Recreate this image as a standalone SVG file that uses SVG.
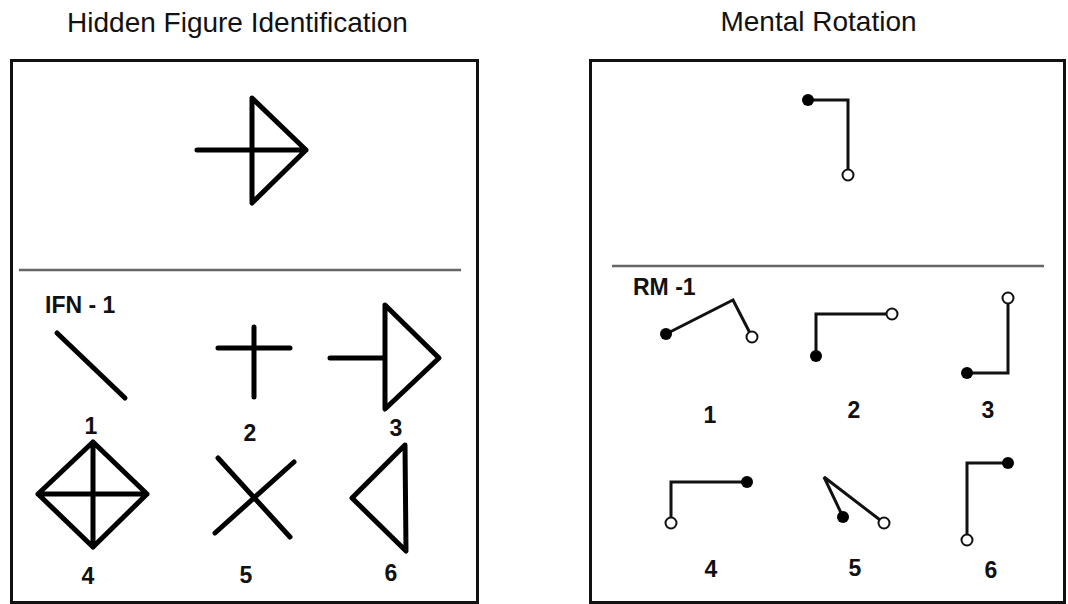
<svg xmlns="http://www.w3.org/2000/svg" width="1068" height="604" viewBox="0 0 1068 604">
<style>
.title{font-family:"Liberation Sans",Arial,sans-serif;font-size:28px;fill:#111;text-anchor:middle}
.lab{font-family:"Liberation Sans",Arial,sans-serif;font-size:23px;font-weight:bold;fill:#111}
.num{font-family:"Liberation Sans",Arial,sans-serif;font-size:23px;font-weight:bold;fill:#111;text-anchor:middle}
.frame{fill:none;stroke:#111;stroke-width:3}
.div{stroke:#666;stroke-width:2.5}
.fig{fill:none;stroke:#000;stroke-width:5;stroke-linecap:round;stroke-linejoin:round}
.rm{fill:none;stroke:#111;stroke-width:3;stroke-linejoin:miter}
.dot{fill:#000}
.ring{fill:#fff;stroke:#111;stroke-width:2}
</style>
<rect width="1068" height="604" fill="#fff"/>
<text class="title" x="237.5" y="32">Hidden Figure Identification</text>
<text class="title" x="818.5" y="31">Mental Rotation</text>

<g id="panel-hidden">
<rect class="frame" x="11.5" y="60.5" width="466" height="542"/>
<line class="div" x1="19" y1="270" x2="461" y2="270"/>
</g>
<g id="hfi-target">
<path class="fig" d="M197 150H306M252 98L306 150L252 203Z"/>
</g>
<text class="lab" id="ifn-label" x="45" y="313">IFN - 1</text>
<g id="hfi-1"><path class="fig" d="M57 333L125 398"/><text class="num" x="91" y="434">1</text></g>
<g id="hfi-2"><path class="fig" d="M218 348H290M254 327V397"/><text class="num" x="250" y="441">2</text></g>
<g id="hfi-3"><path class="fig" d="M330 358H385M385 305L439 358L385 409Z"/><text class="num" x="396" y="436">3</text></g>
<g id="hfi-4"><path class="fig" d="M38 494L93 442L147 494L93 547ZM38 494H147M93 442V547"/><text class="num" x="88" y="584">4</text></g>
<g id="hfi-5"><path class="fig" d="M218 458L290 537M215 533L294 462"/><text class="num" x="246" y="583">5</text></g>
<g id="hfi-6"><path class="fig" d="M405 445L352 498L406 551Z"/><text class="num" x="391" y="581">6</text></g>

<g id="panel-rotation">
<rect class="frame" x="590.5" y="60.5" width="474" height="542"/>
<line class="div" x1="612" y1="266" x2="1044" y2="266"/>
</g>
<g id="rm-target">
<path class="rm" d="M808 100H848V175"/>
<circle class="dot" cx="808" cy="100" r="6"/>
<circle class="ring" cx="848" cy="175" r="5.5"/>
</g>
<text class="lab" id="rm-label" x="633" y="295">RM -1</text>
<g id="rm-1"><path class="rm" d="M666 334L733 300L752 337"/><circle class="dot" cx="666" cy="334" r="6"/><circle class="ring" cx="752" cy="337" r="5.5"/><text class="num" x="710" y="423">1</text></g>
<g id="rm-2"><path class="rm" d="M816 356V314H892"/><circle class="dot" cx="816" cy="356" r="6"/><circle class="ring" cx="892" cy="314" r="5.5"/><text class="num" x="854" y="418">2</text></g>
<g id="rm-3"><path class="rm" d="M1008 298V373H967"/><circle class="ring" cx="1008" cy="298" r="5.5"/><circle class="dot" cx="967" cy="373" r="6"/><text class="num" x="988" y="418">3</text></g>
<g id="rm-4"><path class="rm" d="M671 523V482H747"/><circle class="ring" cx="671" cy="523" r="5.5"/><circle class="dot" cx="747" cy="482" r="6"/><text class="num" x="711" y="577">4</text></g>
<g id="rm-5"><path class="rm" d="M843 517L824 477L884 523"/><circle class="dot" cx="843" cy="517" r="6"/><circle class="ring" cx="884" cy="523" r="5.5"/><text class="num" x="855" y="576">5</text></g>
<g id="rm-6"><path class="rm" d="M967 540V463H1008"/><circle class="ring" cx="967" cy="540" r="5.5"/><circle class="dot" cx="1008" cy="463" r="6"/><text class="num" x="991" y="578">6</text></g>
</svg>
